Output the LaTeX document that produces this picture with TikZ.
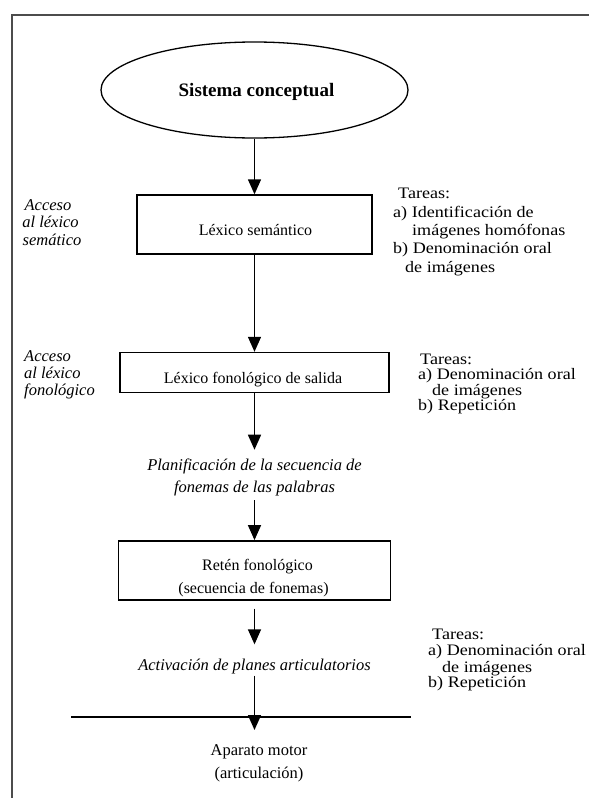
\documentclass[tikz,border=0pt]{standalone}
\usepackage{fontspec}
\setmainfont{Liberation Serif}
\newfontfamily\tkfont[FakeStretch=1.13]{Liberation Serif}
\usetikzlibrary{shapes.geometric,arrows.meta}
\begin{document}
\begin{tikzpicture}[x=1pt,y=-1pt,
  frame/.style={draw=black!70,line width=2pt},
  boxst/.style={draw,line width=1.4pt,rectangle,inner sep=0pt},
  arr/.style={line width=1.4pt,-{Triangle[length=15pt,width=13pt]}},
  rtext/.style={inner sep=0pt,anchor=base,font=\fontsize{16}{18}\selectfont},
  itext/.style={inner sep=0pt,anchor=base,font=\fontsize{16.5}{18}\selectfont\itshape},
  iwest/.style={inner sep=0pt,anchor=base west,font=\fontsize{16.5}{18}\selectfont\itshape},
  tline/.style={inner sep=0pt,anchor=base west,font=\tkfont\fontsize{16}{18}\selectfont},
]
\useasboundingbox (0,0) rectangle (589,798);
% frame
\draw[frame] (12,800) -- (12,15) -- (591,15);

% ellipse
\node[ellipse,draw,line width=1.3pt,minimum width=307pt,minimum height=96pt,inner sep=0pt] (ell) at (254.5,90) {};
\node[rtext,font=\fontsize{19}{20}\selectfont\bfseries] (ellt) at (256.5,96) {Sistema conceptual};

% box 1
\node[boxst,minimum width=235pt,minimum height=59pt] (b1) at (254.5,224.5) {};
\node[rtext] (b1t) at (255.5,235) {Léxico semántico};
\node[itext] (l1a) at (48,210) {Acceso};
\node[itext] (l1b) at (50.5,227) {al léxico};
\node[itext] (l1c) at (52,245) {semático};
\node[tline] (t1a) at (398,198) {Tareas:};
\node[tline] (t1b) at (393,217) {a) Identificación de};
\node[tline] (t1c) at (412,235) {imágenes homófonas};
\node[tline] (t1d) at (393,253) {b) Denominación oral};
\node[tline] (t1e) at (405,272) {de imágenes};

% box 2
\node[boxst,minimum width=269pt,minimum height=40pt] (b2) at (254.5,372.5) {};
\node[rtext] (b2t) at (253,383) {Léxico fonológico de salida};
\node[iwest] (l2a) at (24,361) {Acceso};
\node[iwest] (l2b) at (24,378) {al léxico};
\node[iwest] (l2c) at (24,395) {fonológico};
\node[tline] (t2a) at (420,364) {Tareas:};
\node[tline] (t2b) at (418,379) {a) Denominación oral};
\node[tline] (t2c) at (432,395) {de imágenes};
\node[tline] (t2d) at (418,410) {b) Repetición};

% planning text
\node[inner sep=0pt,align=center,font=\fontsize{16.5}{22}\selectfont\itshape] (plan) at (254.5,477.5)
  {Planificación de la secuencia de\\fonemas de las palabras};

% box 3
\node[boxst,minimum width=272pt,minimum height=59pt] (b3) at (254.5,570.3) {};
\node[rtext] (b3a) at (257.5,570) {Retén fonológico};
\node[rtext] (b3b) at (253.5,593) {(secuencia de fonemas)};

% activation
\node[itext] (act) at (254.5,670) {Activación de planes articulatorios};
\node[tline] (t3a) at (432,639) {Tareas:};
\node[tline] (t3b) at (428,655) {a) Denominación oral};
\node[tline] (t3c) at (442,672) {de imágenes};
\node[tline] (t3d) at (428,687) {b) Repetición};

% motor
\draw[line width=1.4pt] (71,717) -- (411,717);
\coordinate (tip6) at (254.5,730);
\node[rtext,font=\fontsize{16.5}{18}\selectfont] (m1) at (259,755) {Aparato motor};
\node[rtext,font=\fontsize{16.5}{18}\selectfont] (m2) at (259,778) {(articulación)};

% connectors
\draw[arr] (ell.south) -- (b1.north);
\draw[arr] (b1.south) -- (b2.north);
\draw[arr,shorten >=9pt] (b2.south) -- (plan.north);
\draw[arr,shorten <=4pt] (plan.south) -- (b3.north);
\draw[arr,shorten <=8pt,shorten >=14pt] (b3.south) -- (act.north);
\draw[arr,shorten <=2pt] (act.south) -- (tip6);
\end{tikzpicture}
\end{document}
